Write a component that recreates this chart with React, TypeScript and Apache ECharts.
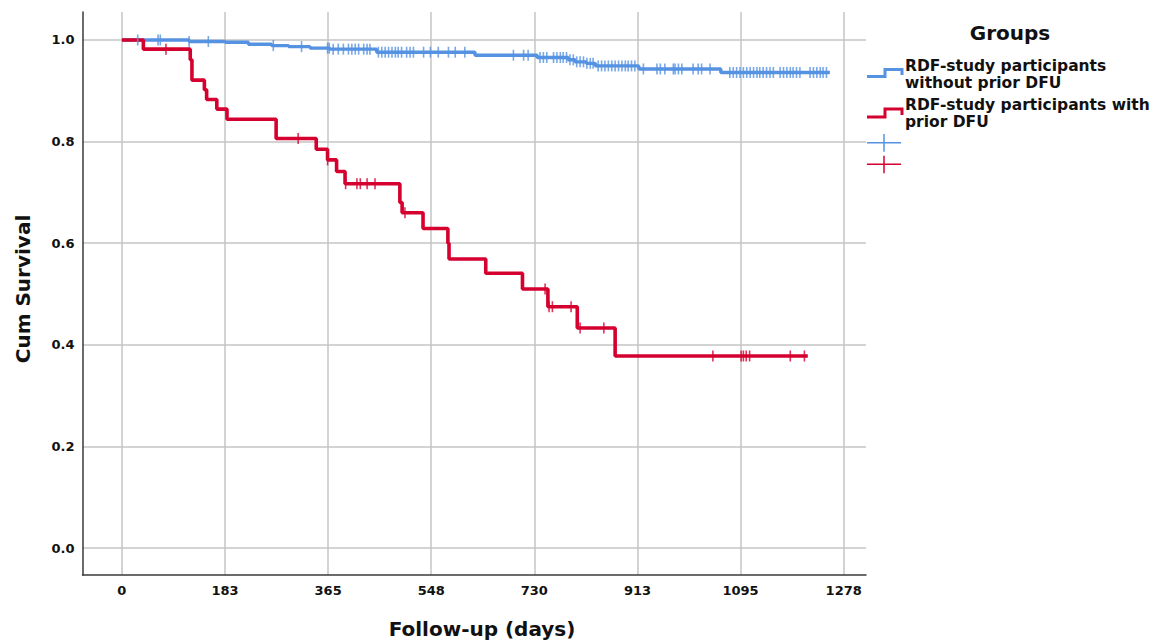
import React, { useEffect, useRef } from "react";
import * as echarts from "echarts";

// Axis ticks (days are half-year steps, labels rounded like the source)
const xTicks = [0, 182.5, 365, 547.5, 730, 912.5, 1095, 1277.5];
const yTicks = [0, 0.2, 0.4, 0.6, 0.8, 1.0];

// Group names
const groupBlue = "RDF-study participants without prior DFU";
const groupRed = "RDF-study participants with prior DFU";

// Kaplan–Meier steps: without prior DFU
const blueDays = [0, 119, 183, 224, 265, 295, 333, 368, 451, 625, 735, 790, 802, 822, 838, 915, 1060, 1253];
const blueSurv = [1.0, 0.997, 0.9955, 0.9915, 0.989, 0.987, 0.984, 0.982, 0.976, 0.97, 0.9655, 0.961, 0.957, 0.954, 0.949, 0.943, 0.936, 0.936];
const blueCensor = [28, 64, 68, 119, 153, 268, 318, 364, 367, 374, 383, 392, 401, 407, 413, 419, 428, 434, 439, 454, 460, 466, 472, 478, 484, 489, 495, 504, 510, 516, 534, 546, 560, 578, 590, 607, 693, 711, 719, 740, 746, 752, 764, 770, 776, 781, 787, 793, 799, 805, 811, 817, 823, 829, 834, 843, 849, 855, 861, 867, 873, 879, 885, 891, 896, 902, 908, 923, 947, 953, 961, 976, 979, 985, 991, 1011, 1020, 1026, 1041, 1076, 1082, 1088, 1094, 1100, 1106, 1112, 1118, 1124, 1129, 1135, 1141, 1147, 1153, 1165, 1171, 1177, 1183, 1188, 1194, 1200, 1218, 1224, 1230, 1236, 1241, 1247];

// Kaplan–Meier steps: with prior DFU
const redDays = [0, 38, 121, 124, 146, 150, 168, 186, 273, 344, 364, 380, 395, 492, 496, 533, 577, 579, 644, 709, 754, 806, 873, 1214];
const redSurv = [1.0, 0.982, 0.961, 0.921, 0.902, 0.883, 0.864, 0.844, 0.806, 0.785, 0.764, 0.741, 0.717, 0.68, 0.66, 0.629, 0.6, 0.569, 0.541, 0.51, 0.475, 0.433, 0.378, 0.378];
const redCensor = [78, 312, 364, 396, 416, 422, 434, 448, 501, 749, 756, 762, 795, 811, 853, 1046, 1096, 1100, 1105, 1111, 1183, 1208];

const BLUE = "#5592E2";
const RED = "#D5002F";
const FONT = "'DejaVu Sans', 'Liberation Sans', Arial, sans-serif";

function survAt(days: number[], surv: number[], t: number): number {
  let v = surv[0];
  for (let i = 0; i < days.length; i++) {
    if (days[i] <= t) v = surv[i];
  }
  return v;
}

export default function App() {
  const ref = useRef<HTMLDivElement>(null);
  useEffect(() => {
    if (!ref.current) return;
    const chart = echarts.init(ref.current, undefined, { renderer: "svg" });
    const blueLine = blueDays.map((d, i) => [d, blueSurv[i]]);
    const redLine = redDays.map((d, i) => [d, redSurv[i]]);
    const blueMarks = blueCensor.map((d) => [d, survAt(blueDays, blueSurv, d)]);
    const redMarks = redCensor.map((d) => [d, survAt(redDays, redSurv, d)]);

    const legendText = {
      fill: "#111",
      font: `bold 15.5px ${FONT}`,
      lineHeight: 17,
      textAlign: "left",
      textVerticalAlign: "top",
    };

    chart.setOption({
      animation: false,
      backgroundColor: "#ffffff",
      grid: { left: 82.5, top: 12, right: 291, bottom: 67, containLabel: false },
      xAxis: {
        type: "value",
        min: -69.7,
        max: 1317,
        axisLine: { show: true, onZero: false, lineStyle: { color: "#3a3a3a", width: 1.5 } },
        axisTick: { show: false, customValues: xTicks },
        axisLabel: {
          customValues: xTicks,
          formatter: (v: number) => String(Math.round(v)),
          color: "#111",
          fontFamily: FONT,
          fontWeight: "bold",
          fontSize: 13,
          margin: 9,
        },
        splitLine: { show: true, lineStyle: { color: "#c4c4c4", width: 1.5 } },
      },
      yAxis: {
        type: "value",
        min: -0.0531,
        max: 1.0551,
        axisLine: { show: true, onZero: false, lineStyle: { color: "#3a3a3a", width: 1.5 } },
        axisTick: { show: false, customValues: yTicks },
        axisLabel: {
          customValues: yTicks,
          formatter: (v: number) => v.toFixed(1),
          color: "#111",
          fontFamily: FONT,
          fontWeight: "bold",
          fontSize: 13,
          margin: 8,
        },
        splitLine: { show: true, lineStyle: { color: "#c4c4c4", width: 1.5 } },
      },
      series: [
        {
          name: groupBlue,
          type: "line",
          step: "end",
          data: blueLine,
          symbol: "none",
          lineStyle: { color: BLUE, width: 3.4 },
          z: 3,
        },
        {
          name: groupRed,
          type: "line",
          step: "end",
          data: redLine,
          symbol: "none",
          lineStyle: { color: RED, width: 3.6 },
          z: 4,
        },
        {
          name: groupBlue + " (censored)",
          type: "scatter",
          data: blueMarks,
          symbol: "rect",
          symbolSize: [1.6, 11],
          itemStyle: { color: BLUE },
          z: 5,
        },
        {
          name: groupRed + " (censored)",
          type: "scatter",
          data: redMarks,
          symbol: "rect",
          symbolSize: [1.6, 11],
          itemStyle: { color: RED },
          z: 6,
        },
      ],
      graphic: [
        {
          type: "text",
          x: 482,
          y: 629,
          style: {
            text: "Follow-up (days)",
            fill: "#111",
            font: `bold 20px ${FONT}`,
            textAlign: "center",
            textVerticalAlign: "middle",
          },
        },
        {
          type: "text",
          x: 22.5,
          y: 289,
          rotation: Math.PI / 2,
          style: {
            text: "Cum Survival",
            fill: "#111",
            font: `bold 20px ${FONT}`,
            textAlign: "center",
            textVerticalAlign: "middle",
          },
        },
        {
          type: "text",
          x: 1010,
          y: 33,
          style: {
            text: "Groups",
            fill: "#111",
            font: `bold 20px ${FONT}`,
            textAlign: "center",
            textVerticalAlign: "middle",
          },
        },
        {
          type: "polyline",
          shape: { points: [[867, 76.5], [885, 76.5], [885, 69.5], [902, 69.5], [902, 75]] },
          style: { stroke: BLUE, lineWidth: 3, fill: null },
        },
        {
          type: "text",
          x: 905,
          y: 57,
          style: { ...legendText, text: "RDF-study participants\nwithout prior DFU" },
        },
        {
          type: "polyline",
          shape: { points: [[867, 117], [885, 117], [885, 109], [902, 109], [902, 115]] },
          style: { stroke: RED, lineWidth: 3, fill: null },
        },
        {
          type: "text",
          x: 905,
          y: 96.5,
          style: { ...legendText, text: "RDF-study participants with\nprior DFU" },
        },
        { type: "line", shape: { x1: 867, y1: 142.7, x2: 901, y2: 142.7 }, style: { stroke: BLUE, lineWidth: 1.5 } },
        { type: "line", shape: { x1: 884, y1: 134, x2: 884, y2: 151.7 }, style: { stroke: BLUE, lineWidth: 1.5 } },
        { type: "line", shape: { x1: 867, y1: 164.3, x2: 901, y2: 164.3 }, style: { stroke: RED, lineWidth: 1.5 } },
        { type: "line", shape: { x1: 884, y1: 155.7, x2: 884, y2: 173.3 }, style: { stroke: RED, lineWidth: 1.5 } },
      ],
    });
    return () => chart.dispose();
  }, []);
  return (
    <div
      ref={ref}
      style={{ position: "absolute", left: 0, top: 0, width: 1157, height: 642, background: "#fff" }}
    />
  );
}
